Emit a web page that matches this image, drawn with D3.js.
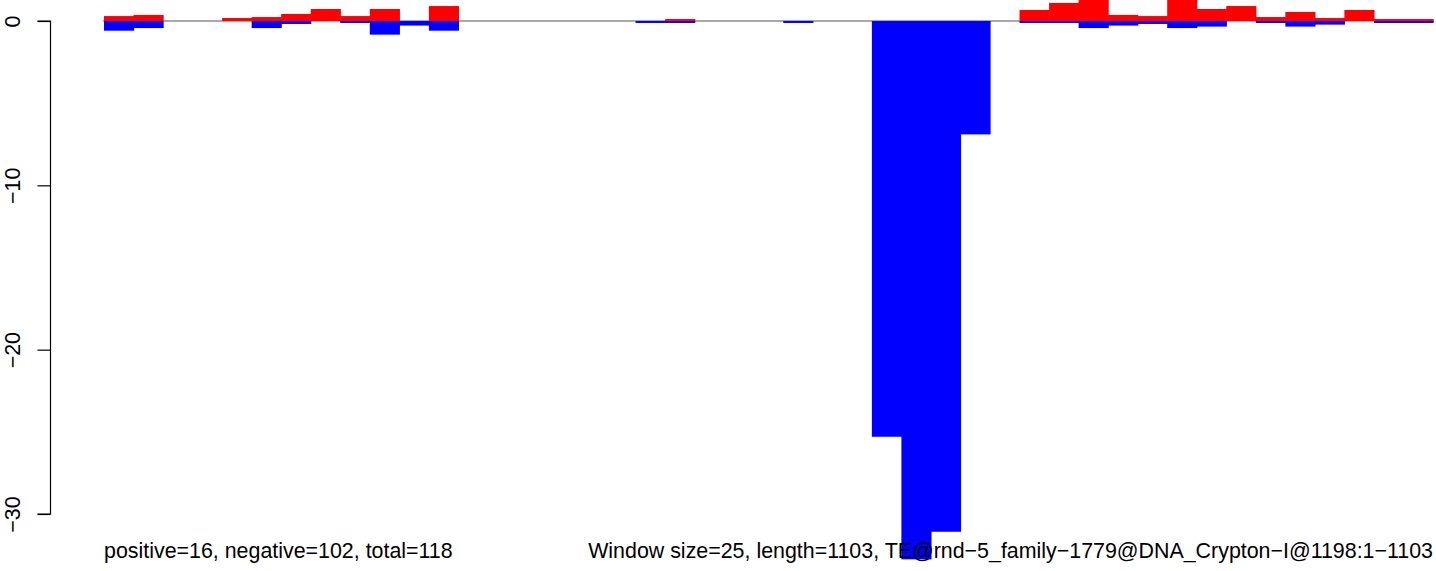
<!DOCTYPE html>
<html>
<head>
<meta charset="utf-8">
<script src="https://cdn.jsdelivr.net/npm/d3@7"></script>
<style>
  html, body { margin: 0; padding: 0; background: #fff; }
  svg { display: block; }
  text { font-family: "Liberation Sans", Arial, Helvetica, sans-serif; }
</style>
</head>
<body>
<svg id="chart" width="1436" height="571"></svg>
<script>
// Window start positions (window size 25, length 1103)
const windowStarts = [0,25,50,75,100,125,150,175,200,225,250,275,300,325,350,375,400,425,450,475,
  500,525,550,575,600,625,650,675,700,725,750,775,800,825,850,875,900,925,950,975,
  1000,1025,1050,1075,1100];

// Positive (red) values per window
const positiveValues = [0.30,0.37,0,0,0.18,0.24,0.43,0.73,0.30,0.73,0,0.91,0,0,0,0,0,0,0,0.12,
  0,0,0,0,0,0,0,0,0,0,0,0.67,1.10,1.60,0.37,0.30,1.60,0.73,0.91,0.24,
  0.55,0.18,0.67,0.12,0.12];

// Negative (blue) values per window
const negativeValues = [-0.59,-0.43,0,0,0,-0.43,-0.18,0,-0.12,-0.83,-0.28,-0.59,0,0,0,0,0,0,-0.12,-0.12,
  0,0,0,-0.12,0,0,-25.3,-32.76,-31.08,-6.9,0,-0.12,-0.12,-0.43,-0.28,-0.18,-0.43,-0.34,0,-0.12,
  -0.34,-0.22,0,-0.12,-0.12];

const yTicks = [0, -10, -20, -30];
const leftNote = "positive=16, negative=102, total=118";
const rightNote = "Window size=25, length=1103, TE@rnd\u22125_family\u22121779@DNA_Crypton\u2212I@1198:1\u22121103";

const svg = d3.select("#chart");

const x = d3.scaleBand().domain(windowStarts).range([104, 1433]).padding(0);
const y = d3.scaleLinear().domain([0, -30]).range([21, 514]);

// zero reference line
svg.append("line")
  .attr("x1", 103).attr("x2", 1434)
  .attr("y1", y(0)).attr("y2", y(0))
  .attr("stroke", "#a9a9a9").attr("stroke-width", 2);

// positive bars
svg.append("g").selectAll("rect")
  .data(windowStarts.map((w, i) => ({w, v: positiveValues[i]})).filter(d => d.v > 0))
  .join("rect")
  .attr("x", d => x(d.w))
  .attr("width", x.bandwidth() + 0.6)
  .attr("y", d => y(d.v))
  .attr("height", d => y(0) - y(d.v))
  .attr("fill", "#ff0000");

// negative bars
svg.append("g").selectAll("rect")
  .data(windowStarts.map((w, i) => ({w, v: negativeValues[i]})).filter(d => d.v < 0))
  .join("rect")
  .attr("x", d => x(d.w))
  .attr("width", x.bandwidth() + 0.6)
  .attr("y", y(0))
  .attr("height", d => y(d.v) - y(0))
  .attr("fill", "#0000ff");

// y axis
const axis = d3.axisLeft(y).tickValues(yTicks).tickSize(13).tickPadding(0)
  .tickFormat(d => d3.format("d")(d).replace("-", "\u2212"));
const gAxis = svg.append("g").attr("transform", "translate(50.5,0)").call(axis);
gAxis.select(".domain").attr("d", `M-13,${y(0)}H0V${y(-30)}H-13`).attr("stroke", "#000").attr("stroke-width", 1.2);
gAxis.selectAll(".tick line").attr("stroke", "#000").attr("stroke-width", 1.2);
gAxis.selectAll(".tick text").remove();
gAxis.selectAll(".tick").append("text")
  .attr("transform", "translate(-31,0) rotate(-90)")
  .attr("text-anchor", "middle")
  .attr("fill", "#000")
  .attr("font-size", 21.4)
  .text(d => d3.format("d")(d).replace("-", "\u2212"));

// notes
svg.append("text").attr("x", 104).attr("y", 558)
  .attr("font-size", 21.4).attr("fill", "#000").text(leftNote);
svg.append("text").attr("x", 1433).attr("y", 558)
  .attr("font-size", 21.4).attr("fill", "#000").attr("text-anchor", "end").text(rightNote);
</script>
</body>
</html>
